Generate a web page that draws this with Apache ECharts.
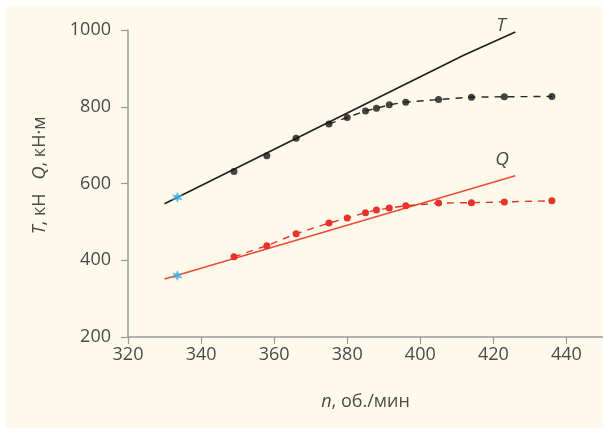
<!DOCTYPE html>
<html>
<head>
<meta charset="utf-8">
<script src="https://cdn.jsdelivr.net/npm/echarts@6/dist/echarts.min.js"></script>
<style>
  html, body { margin: 0; padding: 0; background: #ffffff; }
  #chart { width: 603px; height: 428px; }
</style>
</head>
<body>
<div id="chart"></div>
<script>
// Rotational speed n (rev/min) and torque T / thrust Q
const xTicks = [320, 340, 360, 380, 400, 420, 440];
const yTicks = [200, 400, 600, 800, 1000];

// Calculated straight lines (solid)
const tLineN = [330, 412, 426];
const tLineV = [547, 935, 995];
const qLineN = [330, 426];
const qLineV = [351, 620];

// Measured points (dashed)
const measN = [349, 358, 366, 375, 380, 385, 388, 391.5, 396, 405, 414, 423, 436];
const tMeas = [631, 672, 718, 755, 772, 789, 796, 805, 812, 819, 825, 826, 827];
const qMeas = [409, 438, 469, 497, 510, 524, 531, 536, 542, 549, 550, 552, 555];

// Design point
const designN = [333.5];
const designT = [564];
const designQ = [360];

const zip = (a, b) => a.map((v, i) => [v, b[i]]);

const starPath = 'path://M0 -10 L2.4 -4 L8.66 -5 L4.6 0 L8.66 5 L2.4 4 L0 10 L-2.4 4 L-8.66 5 L-4.6 0 L-8.66 -5 L-2.4 -4 Z';

const font = 'Open Sans';
const axisGray = '#9a9a9a';
const textColor = '#4a4a4a';
const red = '#e8332c';

const chart = echarts.init(document.getElementById('chart'), null, { renderer: 'canvas' });

function endLabel(text, offset) {
  return {
    show: true,
    formatter: text,
    offset: offset,
    fontFamily: font,
    fontStyle: 'italic',
    fontSize: 19,
    color: textColor
  };
}

chart.setOption({
  backgroundColor: '#ffffff',
  animation: false,
  graphic: [{
    type: 'rect',
    z: -100,
    silent: true,
    shape: { x: 6, y: 6, width: 597, height: 422 },
    style: { fill: '#fdfaec' }
  }],
  grid: { left: 128, right: 0, top: 30, bottom: 91 },
  xAxis: {
    type: 'value',
    min: 320, max: 450, interval: 20,
    axisLine: { show: true, lineStyle: { color: axisGray, width: 1.5 } },
    axisTick: { show: true, length: 7, lineStyle: { color: axisGray, width: 1.2 }, customValues: xTicks },
    axisLabel: {
      margin: 9, fontFamily: font, fontSize: 18, color: textColor,
      customValues: xTicks, formatter: v => String(v)
    },
    splitLine: { show: false },
    name: '{i|n}, об./мин',
    nameLocation: 'middle',
    nameGap: 56,
    nameTextStyle: {
      fontFamily: font, fontSize: 18, color: textColor,
      rich: { i: { fontFamily: font, fontSize: 18, fontStyle: 'italic', color: textColor } }
    }
  },
  yAxis: {
    type: 'value',
    min: 200, max: 1000, interval: 200,
    axisLine: { show: true, lineStyle: { color: axisGray, width: 1.5 } },
    axisTick: { show: true, length: 7, lineStyle: { color: axisGray, width: 1.2 } },
    axisLabel: { margin: 17, fontFamily: font, fontSize: 18, color: textColor, formatter: v => String(v) },
    splitLine: { show: false },
    name: '{i|T}, кН   {i|Q}, кН·м',
    nameLocation: 'middle',
    nameRotate: 90,
    nameGap: 79,
    nameTextStyle: {
      fontFamily: font, fontSize: 18, color: textColor,
      padding: [0, 0, 0, 16],
      rich: { i: { fontFamily: font, fontSize: 18, fontStyle: 'italic', color: textColor } }
    }
  },
  series: [
    {
      name: 'T calc', type: 'line', data: zip(tLineN, tLineV),
      showSymbol: false, symbol: 'none',
      lineStyle: { color: '#1e1e1e', width: 1.6 },
      endLabel: endLabel('T', [-27, -6]),
      z: 3
    },
    {
      name: 'Q calc', type: 'line', data: zip(qLineN, qLineV),
      showSymbol: false, symbol: 'none',
      lineStyle: { color: '#ee4b35', width: 1.6 },
      endLabel: endLabel('Q', [-28, -16]),
      z: 3
    },
    {
      name: 'T meas line', type: 'line',
      data: zip(measN, tMeas).slice(3),
      symbol: 'none',
      lineStyle: { color: '#2a2a2a', width: 1.4, type: [7, 6] },
      z: 4
    },
    {
      name: 'T meas', type: 'scatter',
      data: zip(measN, tMeas),
      symbol: 'circle', symbolSize: 7,
      itemStyle: { color: '#151515' },
      z: 5
    },
    {
      name: 'Q meas', type: 'line',
      data: zip(measN, qMeas),
      symbol: 'circle', symbolSize: 7, showSymbol: true,
      itemStyle: { color: red },
      lineStyle: { color: red, width: 1.4, type: [7, 6] },
      z: 5
    },
    {
      name: 'Design', type: 'scatter',
      data: [...zip(designN, designT), ...zip(designN, designQ)],
      symbol: starPath, symbolSize: 11,
      itemStyle: { color: '#39aee6' },
      z: 6
    }
  ]
});
</script>
</body>
</html>
